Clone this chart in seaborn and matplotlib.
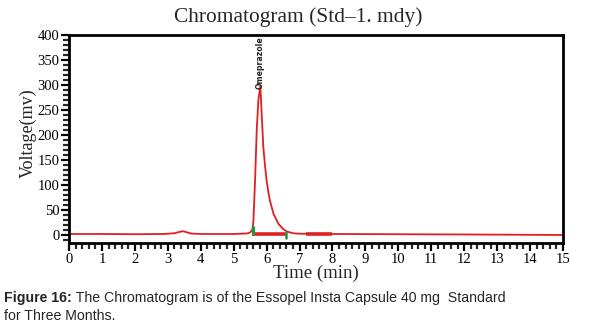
import matplotlib
matplotlib.use("Agg")
import matplotlib.pyplot as plt
from matplotlib.ticker import MultipleLocator
import seaborn as sns
import pandas as pd

# ---- data ----
time_min = [0.0, 1.0, 2.0, 2.9, 3.2, 3.35, 3.45, 3.55, 3.7, 4.0, 5.0, 5.4, 5.5,
            5.57, 5.60, 5.65, 5.70, 5.75, 5.81, 5.85, 5.90, 5.95, 6.0, 6.05,
            6.10, 6.21, 6.36, 6.5, 6.61, 6.8, 7.0, 8.0, 10.0, 12.0, 15.0]
voltage_mv = [3, 3, 2.5, 3, 4.5, 7, 8.5, 7, 4, 3, 3, 4, 6,
              12, 30, 110, 210, 270, 298, 243, 177, 140, 110, 88,
              70, 43, 23, 13, 8, 4.5, 3.5, 3, 2.5, 2, 1]

baseline1_x = [5.55, 6.6]
baseline2_x = [7.2, 8.0]
baseline_y = 3
marker_up_x = 5.60
marker_down_x = 6.60
peak_label = "Omeprazole"
peak_label_x = 5.81

title = "Chromatogram (Std\u20131. mdy)"
xlabel = "Time (min)"
ylabel = "Voltage(mv)"
caption_bold = "Figure 16:"
caption_rest = " The Chromatogram is of the Essopel Insta Capsule 40 mg  Standard"
caption_line2 = "for Three Months."

# ---- style ----
sns.set_style("ticks")
plt.rcParams["font.family"] = ["Liberation Serif", "DejaVu Serif"]

fig = plt.figure(figsize=(6.06, 3.32), dpi=100)
ax = fig.add_axes([69/606, 1-243/332, (563-69)/606, (243-35)/332])

df = pd.DataFrame({"t": time_min, "v": voltage_mv})
sns.lineplot(data=df, x="t", y="v", ax=ax, color="#e02020", linewidth=1.3)

ax.plot(baseline1_x, [baseline_y]*2, color="#e02020", linewidth=2.6, solid_capstyle="butt")
ax.plot(baseline2_x, [baseline_y]*2, color="#e02020", linewidth=2.6, solid_capstyle="butt")
ax.plot([marker_up_x]*2, [baseline_y, baseline_y + 14], color="#1a9a3a", linewidth=2.2)
ax.plot([marker_down_x]*2, [baseline_y - 8, baseline_y + 4], color="#1a9a3a", linewidth=1.8)

lbl = ax.text(peak_label_x, 398, peak_label, rotation=90, ha="center", va="top",
              fontsize=5.6, fontweight="bold",
              family=["Liberation Sans Narrow", "DejaVu Sans"])

ax.set_xlim(0, 15)
ax.set_ylim(-15, 400)
ax.xaxis.set_major_locator(MultipleLocator(1))
ax.xaxis.set_minor_locator(MultipleLocator(0.2))
ax.yaxis.set_major_locator(MultipleLocator(50))
ax.yaxis.set_minor_locator(MultipleLocator(10))

for s in ax.spines.values():
    s.set_visible(True)
    s.set_linewidth(2)
    s.set_color("black")

ax.tick_params(axis="both", which="major", direction="out", length=6, width=1.6,
               labelsize=10.5, pad=1, colors="black")
ax.tick_params(axis="both", which="minor", direction="out", length=4, width=1.6)

ax.set_xlabel(xlabel, fontsize=13.5, labelpad=-1)
ax.set_ylabel(ylabel, fontsize=13)
ax.yaxis.set_label_coords(-0.066, (243-133)/(243-35))
fig.text(298/606, 1-17/332, title, ha="center", va="center", fontsize=15.4)

# caption
cap_font = ["Liberation Sans", "DejaVu Sans"]
tb = fig.text(4/606, 1-298/332, caption_bold, ha="left", va="center",
              fontsize=10.2, fontweight="bold", family=cap_font)
fig.canvas.draw()
renderer = fig.canvas.get_renderer()
bb = tb.get_window_extent(renderer)
fig.text(bb.x1/fig.bbox.width, 1-298/332, caption_rest, ha="left", va="center",
         fontsize=10.2, family=cap_font)
fig.text(4/606, 1-316/332, caption_line2, ha="left", va="center",
         fontsize=10.2, family=cap_font)

fig.savefig("out.png", dpi=100)
